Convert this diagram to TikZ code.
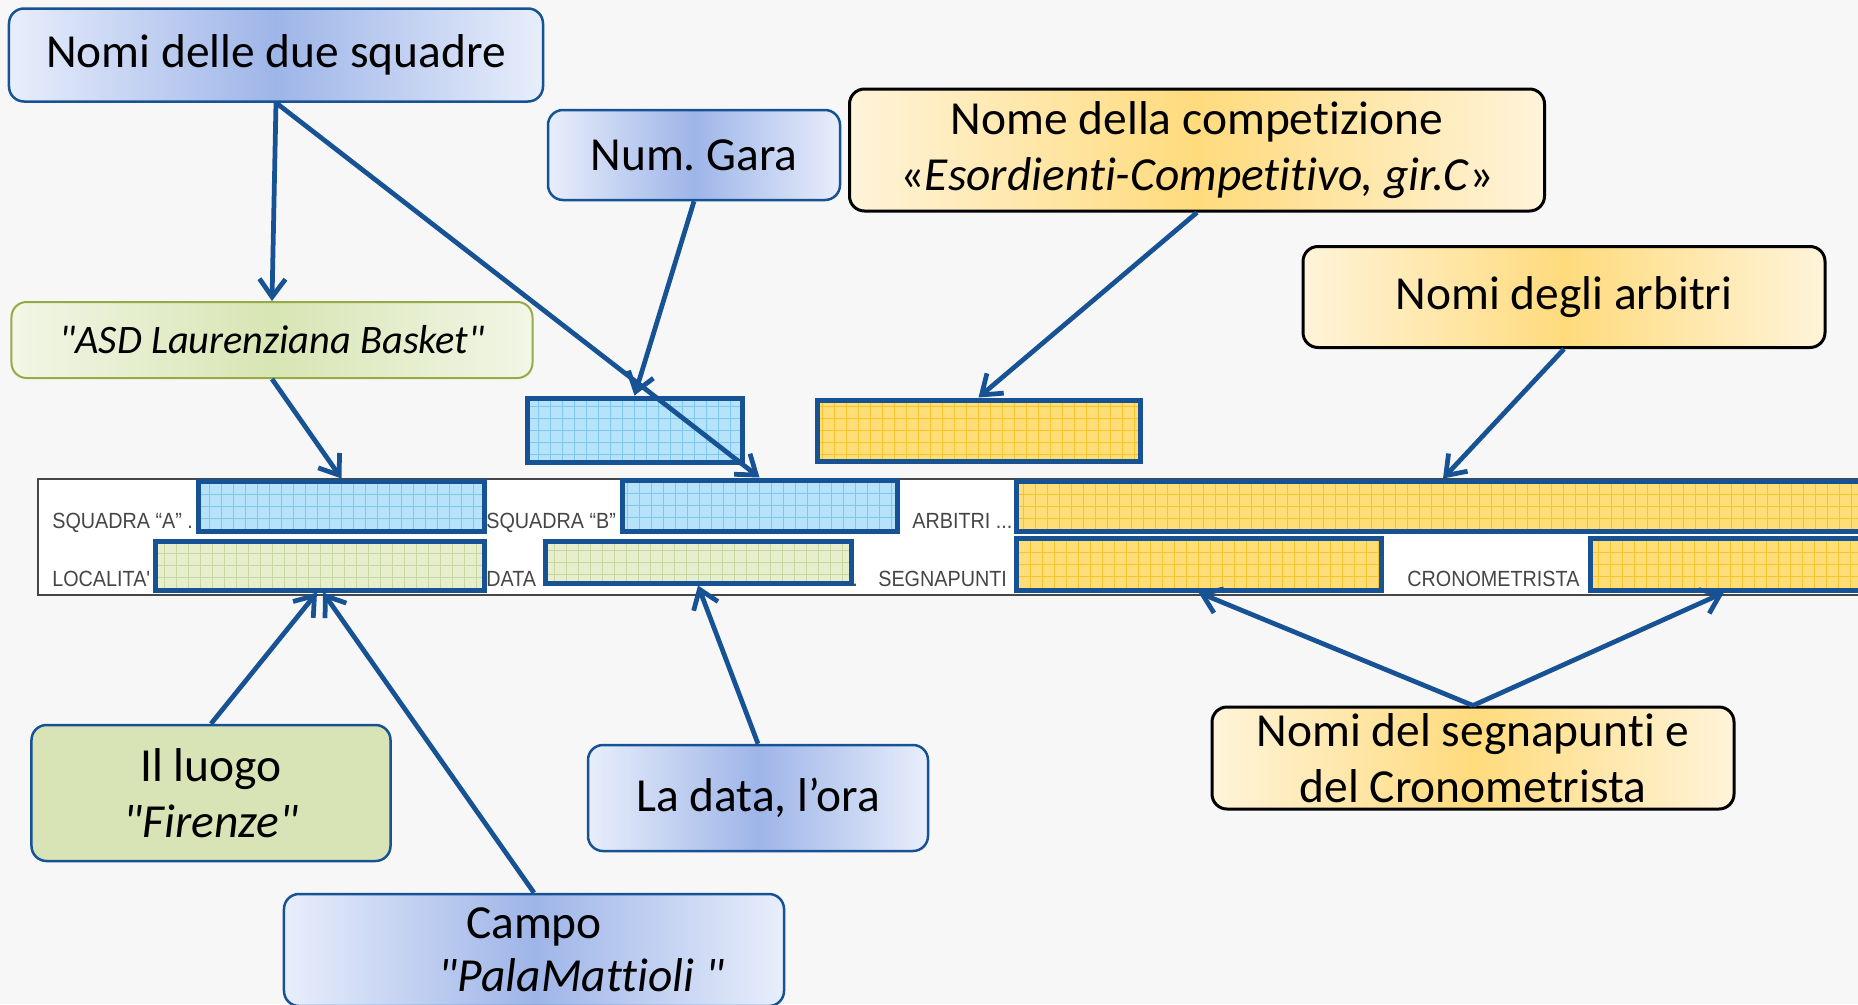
\documentclass[tikz,border=0pt]{standalone}
\usepackage{fontspec}
\setmainfont{Carlito}
\newfontfamily\calibri[Ligatures=CommonOff]{Carlito}
\newfontfamily\formfont[FakeStretch=0.9]{Liberation Sans}
\usetikzlibrary{arrows.meta}

\definecolor{linkblue}{RGB}{22,82,148}
\definecolor{bggray}{RGB}{247,247,247}
\definecolor{formgray}{RGB}{70,70,70}
\definecolor{bluelight}{RGB}{232,238,251}
\definecolor{bluemid}{RGB}{158,181,232}
\definecolor{yellight}{RGB}{255,244,218}
\definecolor{yelmid}{RGB}{255,219,125}
\definecolor{greenlight}{RGB}{242,246,230}
\definecolor{greenmid}{RGB}{216,229,180}
\definecolor{olive}{RGB}{150,170,70}
\definecolor{luogogreen}{RGB}{216,228,182}
\definecolor{fieldblue}{RGB}{182,226,250}
\definecolor{gridblue}{RGB}{125,200,240}
\definecolor{fieldyellow}{RGB}{255,222,120}
\definecolor{gridyellow}{RGB}{248,196,45}
\definecolor{fieldgreen}{RGB}{231,238,206}
\definecolor{gridgreen}{RGB}{200,214,160}

\begin{document}
\begin{tikzpicture}[x=0.2mm, y=-0.2mm,
    callout/.style={rounded corners=3mm, align=center, inner sep=0pt,
        font=\calibri\fontsize{27}{32}\selectfont},
    bluebox/.style={callout, draw=linkblue, line width=0.5mm,
        left color=bluelight, right color=bluelight, middle color=bluemid},
    yellowbox/.style={callout, draw=black, line width=0.6mm,
        left color=yellight, right color=yellight, middle color=yelmid},
    field/.style={draw=linkblue, line width=1mm, inner sep=0pt},
    bluefield/.style={field, fill=fieldblue, path picture={
        \draw[gridblue, line width=0.12mm, step=2.4mm]
            (path picture bounding box.south west) grid (path picture bounding box.north east);}},
    yellowfield/.style={field, fill=fieldyellow, path picture={
        \draw[gridyellow, line width=0.12mm, step=2.4mm]
            (path picture bounding box.south west) grid (path picture bounding box.north east);}},
    greenfield/.style={field, fill=fieldgreen, path picture={
        \draw[gridgreen, line width=0.12mm, step=2.4mm]
            (path picture bounding box.south west) grid (path picture bounding box.north east);}},
    formlabel/.style={anchor=base west, inner sep=0pt, text=formgray,
        font=\formfont\fontsize{12.5}{14}\selectfont},
    link/.style={draw=linkblue, line width=0.95mm,
        -{Straight Barb[length=3.6mm, width=5.2mm]}}
]
    \useasboundingbox (0,0) rectangle (1858,1004);
    \clip (0,0) rectangle (1858,1004);
    \fill[bggray] (0,0) rectangle (1858,1004);

    % Form strip
    \draw[formgray, line width=0.4mm, fill=white] (38,479) rectangle (1900,595);

    % Form labels
    \node[formlabel] (lsqa) at (52,528) {SQUADRA “A” .};
    \node[formlabel] (lsqb) at (486,528) {SQUADRA “B”};
    \node[formlabel] (larb) at (912,528) {ARBITRI ...};
    \node[formlabel] (lloc) at (52,586) {LOCALITA'};
    \node[formlabel] (ldata) at (486,586) {DATA};
    \node[formlabel] (ldot) at (852,586) {.};
    \node[formlabel] (lsegna) at (878,586) {SEGNAPUNTI};
    \node[formlabel] (lcrono) at (1407,586) {CRONOMETRISTA};

    % Form fields
    \node[bluefield, minimum width=57mm, minimum height=10mm] (fa) at (341.5,506) {};
    \node[bluefield, minimum width=55mm, minimum height=10.2mm] (fb) at (759.5,505.5) {};
    \node[yellowfield, minimum width=170.8mm, minimum height=10mm] (farb) at (1443,506) {};
    \node[greenfield, minimum width=65.6mm, minimum height=9.8mm] (floc) at (320,565.5) {};
    \node[greenfield, minimum width=61.2mm, minimum height=8.4mm] (fdata) at (698,562) {};
    \node[yellowfield, minimum width=73mm, minimum height=10.4mm] (fsegna) at (1198.5,564) {};
    \node[yellowfield, minimum width=56mm, minimum height=10.4mm] (fcrono) at (1730,564) {};

    % Fields above the strip
    \node[bluefield, minimum width=43mm, minimum height=12.8mm] (fgara) at (634.5,430) {};
    \node[yellowfield, minimum width=64.6mm, minimum height=12.2mm] (fcomp) at (978.5,430.5) {};

    % Callouts
    \node[bluebox, minimum width=106.8mm, minimum height=18.6mm] (nomi) at (276,55) {Nomi delle due squadre};
    \node[bluebox, minimum width=58.4mm, minimum height=18mm] (gara) at (694,155) {Num.\ Gara};
    \node[yellowbox, minimum width=139mm, minimum height=24.4mm] (comp) at (1197,150)
        {Nome della competizione\\«\textit{Esordienti-Competitivo, gir.C}»};
    \node[yellowbox, minimum width=104.4mm, minimum height=20.2mm] (arbitri) at (1564,297) {Nomi degli arbitri};
    \node[callout, draw=olive, line width=0.4mm, left color=greenlight, right color=greenlight,
        middle color=greenmid, minimum width=104.2mm, minimum height=15.2mm,
        font=\calibri\fontsize{23}{28}\selectfont] (asd) at (272,340) {\textit{"ASD Laurenziana Basket"}};
    \node[callout, draw=linkblue, line width=0.5mm, fill=luogogreen,
        minimum width=71.8mm, minimum height=27.2mm] (luogo) at (211,793) {Il luogo\\\textit{"Firenze"}};
    \node[bluebox, minimum width=100mm, minimum height=22.4mm,
        font=\calibri\fontsize{27}{30}\selectfont] (campo) at (534,950)
        {Campo\\\hspace*{2em}\textit{"PalaMattioli "}};
    \node[bluebox, minimum width=68mm, minimum height=21.2mm] (data) at (758,798) {La data, l’ora};
    \node[yellowbox, minimum width=104.4mm, minimum height=20.4mm] (segna) at (1473,758)
        {Nomi del segnapunti e\\del Cronometrista};

    % Arrows
    \draw[link] (nomi.south) -- (asd.north);
    \draw[link] (nomi.south) -- (fb.north);
    \draw[link] (gara.south) -- (fgara.north);
    \draw[link] (comp.south) -- (fcomp.north);
    \draw[link] (arbitri.south) -- (farb.north);
    \draw[link] (asd.south) -- (fa.north);
    \draw[link] (luogo.north) -- ([xshift=-0.6mm]floc.south);
    \draw[link] (campo.north) -- ([xshift=0.6mm]floc.south);
    \draw[link] (data.north) -- (fdata.south);
    \draw[link] (segna.north) -- (fsegna.south);
    \draw[link] (segna.north) -- ([xshift=-1.2mm]fcrono.south);
\end{tikzpicture}
\end{document}
